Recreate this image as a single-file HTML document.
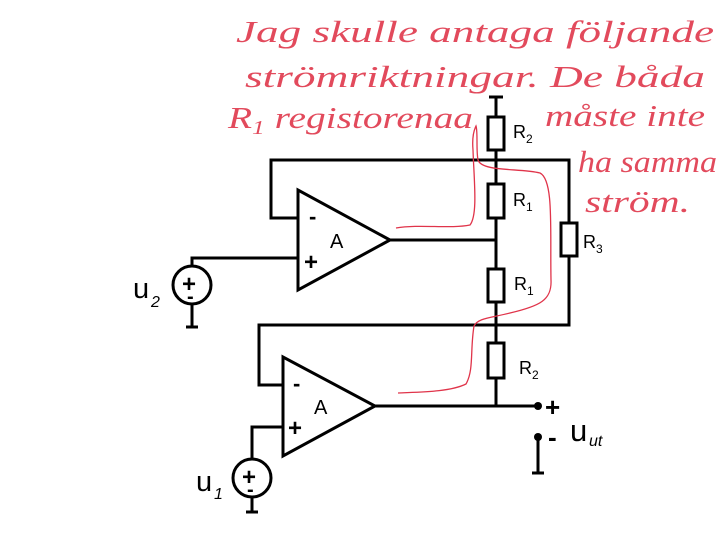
<!DOCTYPE html>
<html><head><meta charset="utf-8"><style>
html,body{margin:0;padding:0;background:#fff;}
svg{display:block}
.w{stroke:#000;stroke-width:3;fill:none}
.r{stroke:#000;stroke-width:3;fill:#fff}
.t{font-family:"Liberation Sans",sans-serif;fill:#000}
.b{font-weight:bold}
.h{font-family:"Liberation Serif",serif;font-style:italic;fill:#e24a5c;font-size:31px}
.rc{stroke:#e0344a;stroke-width:1.3;fill:none}
</style></head><body>
<svg width="717" height="533" viewBox="0 0 717 533" xmlns="http://www.w3.org/2000/svg">
<line class="w" x1="496" y1="97" x2="496" y2="406"/>
<line class="w" x1="489" y1="97" x2="503" y2="97"/>
<rect class="r" x="488" y="117" width="16" height="33"/>
<rect class="r" x="488" y="184" width="16" height="34"/>
<rect class="r" x="488" y="269" width="16" height="33"/>
<rect class="r" x="488" y="343" width="16" height="35"/>
<polyline class="w" points="298,218 271,218 271,160 569,160 569,325 259,325 259,385 283,385"/>
<rect class="r" x="561" y="223" width="16" height="33"/>
<polygon class="w" points="298,190 298,290 390,240" style="fill:#fff"/>
<line class="w" x1="390" y1="240" x2="496" y2="240"/>
<text class="t b" x="309" y="224" font-size="22">-</text>
<text class="t b" x="304" y="270" font-size="24">+</text>
<text class="t" x="330" y="248" font-size="20">A</text>
<polyline class="w" points="298,258 192,258 192,266"/>
<circle class="w" cx="192" cy="285" r="19"/>
<text class="t b" x="182" y="292" font-size="24">+</text>
<text class="t b" x="187" y="303" font-size="20">-</text>
<line class="w" x1="192" y1="304" x2="192" y2="327"/>
<line class="w" x1="186" y1="327" x2="198" y2="327"/>
<text class="t" x="133" y="298" font-size="29">u</text>
<text class="t" x="151" y="307" font-size="16" font-style="italic">2</text>
<polygon class="w" points="283,357 283,456 375,406" style="fill:#fff"/>
<line class="w" x1="375" y1="406" x2="538" y2="406"/>
<circle cx="538" cy="406" r="4" fill="#000"/>
<circle cx="538" cy="437" r="4" fill="#000"/>
<line class="w" x1="538" y1="437" x2="538" y2="473"/>
<line class="w" x1="532" y1="473" x2="544" y2="473"/>
<text class="t b" x="293" y="391" font-size="22">-</text>
<text class="t b" x="288" y="436" font-size="24">+</text>
<text class="t" x="314" y="414" font-size="20">A</text>
<text class="t b" x="545" y="416" font-size="26">+</text>
<text class="t b" x="548" y="446" font-size="26">-</text>
<text class="t" x="570" y="441" font-size="31">u</text>
<text class="t" x="589" y="446" font-size="16" font-style="italic">ut</text>
<polyline class="w" points="283,427 252,427 252,459"/>
<circle class="w" cx="252" cy="478" r="19"/>
<text class="t b" x="242" y="485" font-size="24">+</text>
<text class="t b" x="247" y="496" font-size="20">-</text>
<line class="w" x1="252" y1="497" x2="252" y2="512"/>
<line class="w" x1="246" y1="512" x2="258" y2="512"/>
<text class="t" x="196" y="491" font-size="29">u</text>
<text class="t" x="214" y="499" font-size="16" font-style="italic">1</text>
<text class="t" x="513" y="138" font-size="18">R<tspan font-size="12" dy="5">2</tspan></text>
<text class="t" x="513" y="206" font-size="18">R<tspan font-size="12" dy="5">1</tspan></text>
<text class="t" x="514" y="290" font-size="18">R<tspan font-size="12" dy="5">1</tspan></text>
<text class="t" x="519" y="374" font-size="18">R<tspan font-size="12" dy="5">2</tspan></text>
<text class="t" x="583" y="248" font-size="18">R<tspan font-size="12" dy="5">3</tspan></text>
<text class="h" x="236" y="42" textLength="478" lengthAdjust="spacingAndGlyphs">Jag skulle antaga följande</text>
<text class="h" x="245" y="87" textLength="460" lengthAdjust="spacingAndGlyphs">strömriktningar. De båda</text>
<text class="h" x="228" y="128" textLength="245" lengthAdjust="spacingAndGlyphs">R<tspan font-size="20" dy="6">1</tspan><tspan dy="-6"> registorenaa</tspan></text>
<text class="h" x="545" y="126" font-size="29" textLength="160" lengthAdjust="spacingAndGlyphs">måste inte</text>
<text class="h" x="578" y="172" font-size="29" textLength="139" lengthAdjust="spacingAndGlyphs">ha samma</text>
<text class="h" x="585" y="212" font-size="29" textLength="105" lengthAdjust="spacingAndGlyphs">ström.</text>
<path class="rc" d="M396,228 C420,224 450,229 470,225 C478,215 474,180 473,150 C472,138 474,130 476,126 C478,132 476,150 478,160 C482,172 520,168 540,173 C554,180 550,230 551,280 C552,300 540,306 510,313 C490,318 478,318 474,326 C470,350 474,370 466,384 C450,392 420,392 398,393"/>
</svg>
</body></html>
